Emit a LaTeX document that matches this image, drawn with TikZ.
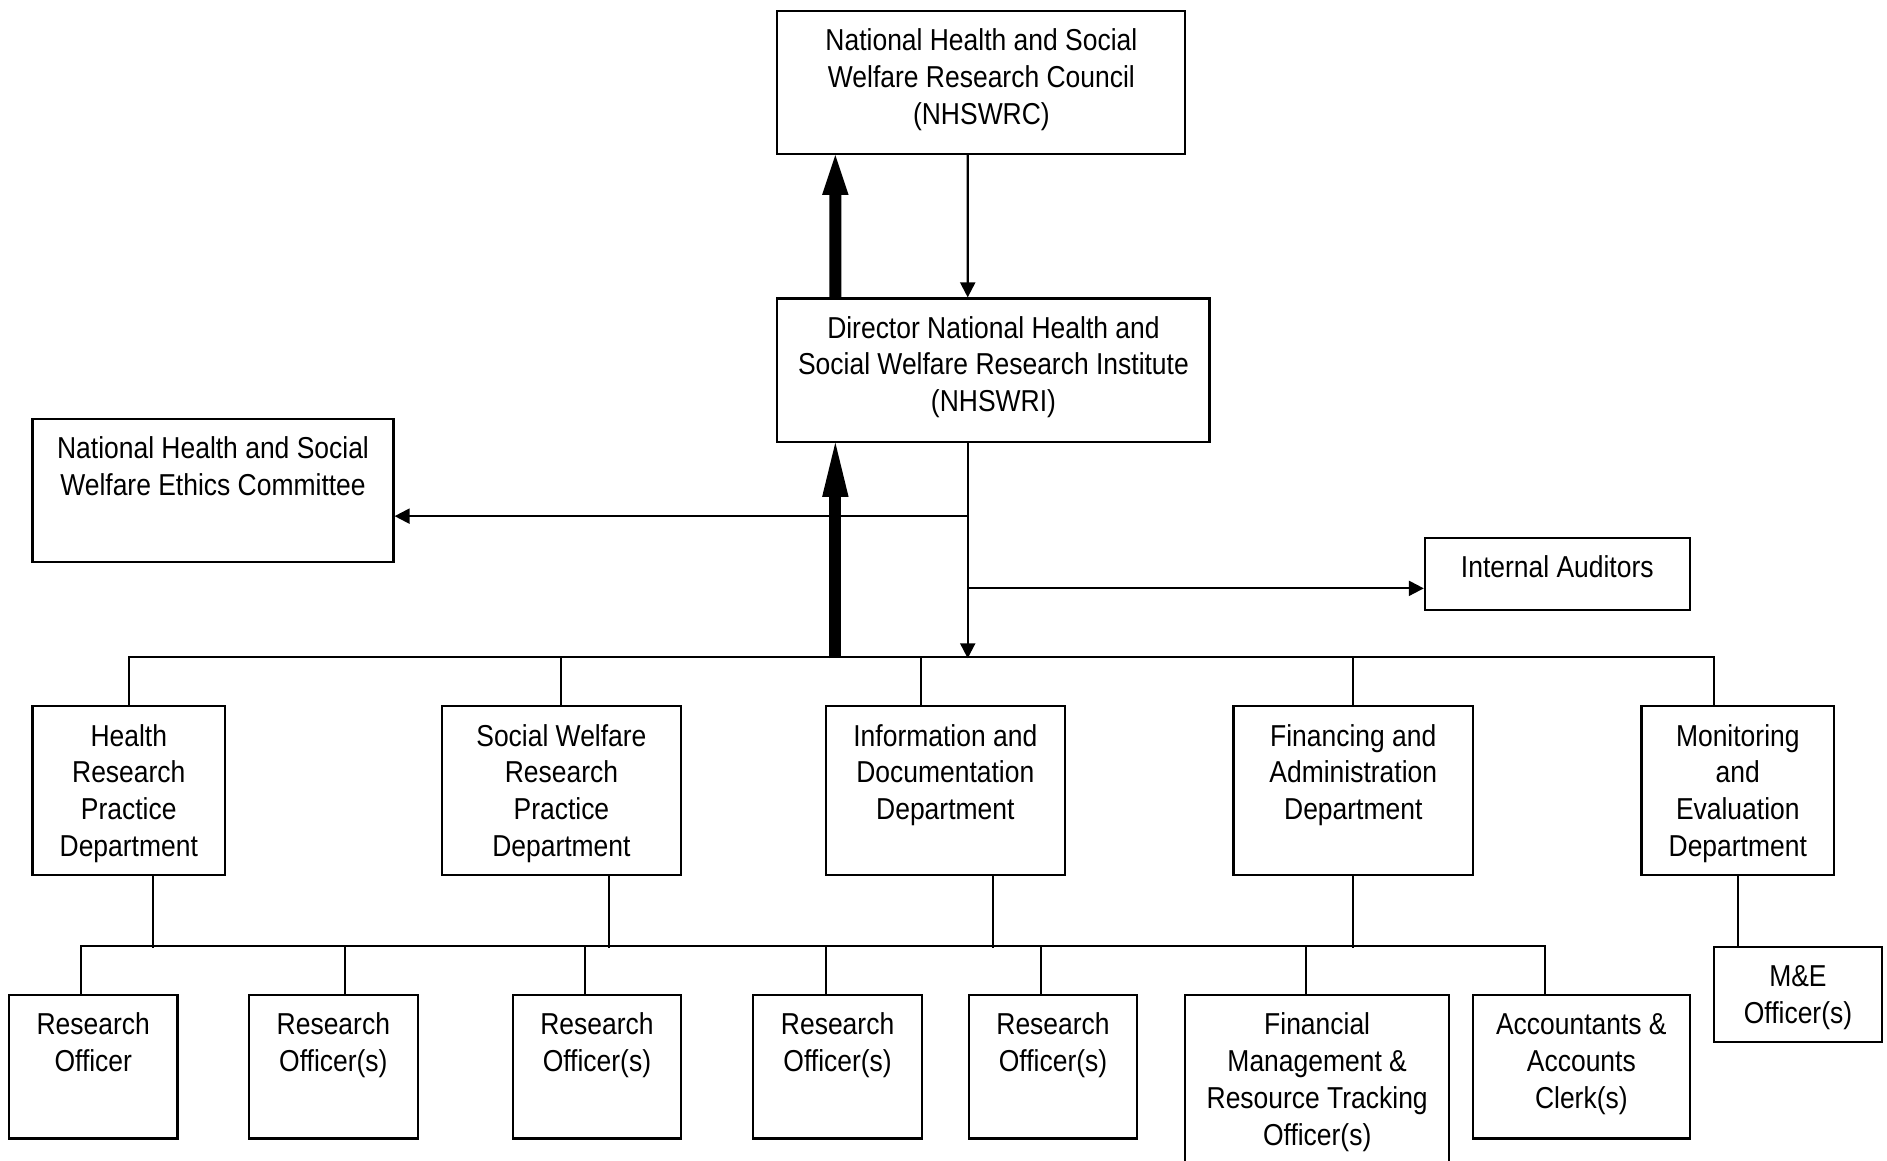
\documentclass[tikz,border=0pt]{standalone}
\usepackage{fontspec}
\setmainfont{Liberation Sans}[FakeStretch=0.875]
\usetikzlibrary{arrows.meta}

\tikzset{
  orgbox/.style 2 args={draw, line width=0.5pt, inner sep=0pt,
    font=\fontsize{7.15}{8.7}\selectfont,
    execute at begin node={\begin{minipage}[c][#2][t]{#1}\centering\rule{0pt}{0.33cm}},
    execute at end node={\end{minipage}}},
  link/.style={line width=0.5pt},
  smallarrow/.style={line width=0.5pt, -{Triangle[length=0.125cm,width=0.125cm]}},
  bigarrow/.style={line width=0.1cm, -{Triangle[length=#1,width=0.22cm,line width=0pt]}},
  bigarrow/.default=0.33cm
}

\begin{document}
\begin{tikzpicture}
	\useasboundingbox (0,0) rectangle (15.68,-9.64);
	\clip (0,0) rectangle (15.68,-9.64);

	% council and institute
	\node[orgbox={3.39cm}{1.19cm}] (council) at (8.155,-0.685) {National Health and Social\\Welfare Research Council\\(NHSWRC)};
	\node[orgbox={3.59cm}{1.19cm}] (director) at (8.255,-3.075) {Director National Health and\\Social Welfare Research Institute\\(NHSWRI)};
	\node[orgbox={3cm}{1.19cm}] (ethics) at (1.77,-4.075) {National Health and Social\\Welfare Ethics Committee};
	\node[orgbox={2.2cm}{0.6cm}] (audit) at (12.94,-4.77) {Internal Auditors};

	% departments
	\node[orgbox={1.6cm}{1.4cm}] (health) at (1.07,-6.57) {Health\\Research\\Practice\\Department};
	\node[orgbox={1.99cm}{1.4cm}] (social) at (4.665,-6.57) {Social Welfare\\Research\\Practice\\Department};
	\node[orgbox={1.99cm}{1.4cm}] (info) at (7.855,-6.57) {Information and\\Documentation\\Department};
	\node[orgbox={1.99cm}{1.4cm}] (finance) at (11.245,-6.57) {Financing and\\Administration\\Department};
	\node[orgbox={1.6cm}{1.4cm}] (monitor) at (14.44,-6.57) {Monitoring\\and\\Evaluation\\Department};

	% officers
	\foreach \n/\x/\t in {ro1/0.775/Officer, ro2/2.77/Officer(s), ro3/4.96/Officer(s), ro4/6.96/Officer(s), ro5/8.75/Officer(s)}
		\node[orgbox={1.4cm}{1.19cm}] (\n) at (\x,-8.865) {Research\\\t};
	\node[orgbox={2.19cm}{1.45cm}] (finmgmt) at (10.945,-8.995) {Financial\\Management \&\\Resource Tracking\\Officer(s)};
	\node[orgbox={1.8cm}{1.19cm}] (accts) at (13.14,-8.865) {Accountants \&\\Accounts\\Clerk(s)};
	\node[orgbox={1.4cm}{0.79cm}] (meo) at (14.94,-8.265) {M\&E\\Officer(s)};

	% council <-> institute
	\draw[bigarrow] ([xshift=0.49cm]director.north west) -- ([xshift=0.49cm]council.south west);
	\draw[smallarrow] ([xshift=1.59cm]council.south west) -- ([xshift=1.59cm]director.north west);

	% institute to departments
	\coordinate (up) at ([xshift=0.49cm]director.south west);
	\coordinate (down) at ([xshift=1.59cm]director.south west);
	\coordinate (bus) at (0,-5.47);
	\coordinate (ethicsjoin) at ([yshift=-0.61cm]down);
	\coordinate (auditjoin) at ([yshift=-1.21cm]down);
	\draw[bigarrow=0.45cm] (up |- bus) -- (up);
	\draw[smallarrow] (down) -- (down |- bus);
	\draw[smallarrow] (ethicsjoin) -- (ethicsjoin -| ethics.east);
	\draw[smallarrow] (auditjoin) -- (auditjoin -| audit.west);

	\draw[link] (health.north) -- ++(0,0.4) -| ([xshift=-0.2cm]monitor.north);
	\draw[link] (social.north) -- ++(0,0.4);
	\draw[link] ([xshift=-0.205cm]info.north) -- ++(0,0.4);
	\draw[link] (finance.north) -- ++(0,0.4);

	% departments to officers
	\foreach \n/\s in {health/0.2, social/0.395, info/0.395, finance/0}
		\draw[link] ([xshift=\s cm]\n.south) -- ++(0,-0.6);
	\draw[link] ([xshift=-0.105cm]ro1.north) -- ++(0,0.4) -| ([xshift=-0.3cm]accts.north);
	\foreach \n/\s in {ro2/0.1, ro3/-0.1, ro4/-0.1, ro5/-0.1, finmgmt/-0.095}
		\draw[link] ([xshift=\s cm]\n.north) -- ++(0,0.4);
	\draw[link] (monitor.south) -- (monitor.south |- meo.north);
\end{tikzpicture}
\end{document}
